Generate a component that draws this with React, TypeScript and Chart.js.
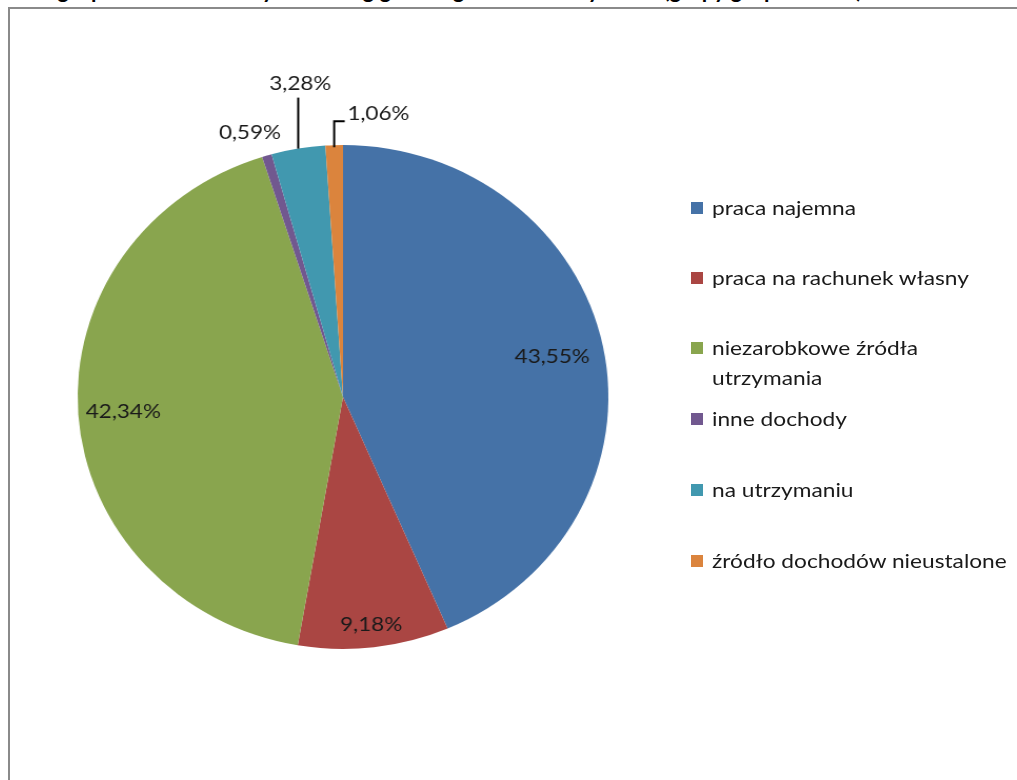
import React, { useEffect, useRef } from "react";
import { Chart, registerables } from "chart.js";

Chart.register(...registerables);

const categories = [
  "praca najemna",
  "praca na rachunek własny",
  "niezarobkowe źródła utrzymania",
  "inne dochody",
  "na utrzymaniu",
  "źródło dochodów nieustalone",
];
const legendLines = [
  ["praca najemna"],
  ["praca na rachunek własny"],
  ["niezarobkowe źródła", "utrzymania"],
  ["inne dochody"],
  ["na utrzymaniu"],
  ["źródło dochodów nieustalone"],
];
const values = [43.55, 9.18, 42.34, 0.59, 3.28, 1.06];
const valueLabels = ["43,55%", "9,18%", "42,34%", "0,59%", "3,28%", "1,06%"];
const colors = ["#4572A7", "#AA4643", "#89A54E", "#71588F", "#4198AF", "#DB843D"];

const titleText =
  "Struktura gospodarstw domowych według głównego źródła utrzymania (grupy gospodarstw)";

// label placement style: inside at fraction of radius, or outside with offsets from arc outer midpoint
type LabelStyle =
  | { mode: "inside"; frac: number }
  | { mode: "outside"; dx: number; dy: number; leader: "none" | "vertical" | "elbow" };
const labelStyles: LabelStyle[] = [
  { mode: "inside", frac: 0.805 },
  { mode: "inside", frac: 0.91 },
  { mode: "inside", frac: 0.83 },
  { mode: "outside", dx: -16, dy: -23, leader: "none" },
  { mode: "outside", dx: 2, dy: -65, leader: "vertical" },
  { mode: "outside", dx: 42, dy: -32, leader: "elbow" },
];

const FONT = "Lato, 'Open Sans', sans-serif";
const STRETCH = 1.053; // horizontal stretch of the whole drawing
const TEXT_STRETCH = 1.065; // extra horizontal stretch of label text

const labelPlugin = {
  id: "pieLabels",
  afterDatasetsDraw(chart: any) {
    const ctx = chart.ctx;
    const meta = chart.getDatasetMeta(0);
    ctx.save();
    ctx.font = `20px ${FONT}`;
    ctx.fillStyle = "#1a1a1a";
    ctx.textAlign = "center";
    ctx.textBaseline = "middle";
    const drawText = (t: string, tx: number, ty: number) => {
      ctx.save();
      ctx.translate(tx, ty);
      ctx.scale(TEXT_STRETCH, 1);
      ctx.fillText(t, 0, 0);
      ctx.restore();
    };
    meta.data.forEach((arc: any, i: number) => {
      const { x, y, startAngle, endAngle, outerRadius } = arc.getProps(
        ["x", "y", "startAngle", "endAngle", "outerRadius"],
        true
      );
      const mid = (startAngle + endAngle) / 2;
      const st = labelStyles[i];
      if (st.mode === "inside") {
        const r = outerRadius * st.frac;
        drawText(valueLabels[i], x + Math.cos(mid) * r, y + Math.sin(mid) * r);
      } else {
        const ox = x + Math.cos(mid) * outerRadius;
        const oy = y + Math.sin(mid) * outerRadius;
        const lx = ox + st.dx;
        const ly = oy + st.dy;
        ctx.strokeStyle = "#000";
        ctx.lineWidth = 2;
        if (st.leader === "vertical") {
          ctx.beginPath();
          ctx.moveTo(ox, oy);
          ctx.lineTo(ox, ly + 14);
          ctx.stroke();
        } else if (st.leader === "elbow") {
          ctx.beginPath();
          ctx.moveTo(ox, oy + 2);
          ctx.lineTo(ox, ly + 8);
          ctx.lineTo(ox + 10, ly + 8);
          ctx.stroke();
        }
        drawText(valueLabels[i], lx, ly);
      }
    });
    ctx.restore();
  },
};

export default function App() {
  const ref = useRef<HTMLCanvasElement | null>(null);
  useEffect(() => {
    if (!ref.current) return;
    const chart = new Chart(ref.current, {
      type: "pie",
      data: {
        labels: categories,
        datasets: [
          {
            data: values,
            backgroundColor: colors,
            borderWidth: 0,
          },
        ],
      },
      options: {
        animation: false,
        responsive: false,
        devicePixelRatio: 1,
        layout: { padding: { left: 91, right: 422, top: 145, bottom: 131 } },
        plugins: {
          legend: { display: false },
          tooltip: { enabled: false },
        },
      },
      plugins: [labelPlugin],
    });
    return () => chart.destroy();
  }, []);

  return (
    <div
      style={{
        position: "fixed",
        left: 0,
        top: 0,
        width: 1017,
        height: 780,
        overflow: "hidden",
        background: "#fff",
      }}
    >
      <div style={{ position: "absolute", left: 0, top: 0, width: 1017, height: 6, overflow: "hidden" }}>
        <div
          style={{
            position: "absolute",
            left: -40,
            top: -24,
            whiteSpace: "nowrap",
            font: `bold 22px ${FONT}`,
            color: "#000",
          }}
        >
          {titleText}
        </div>
      </div>
      <div
        style={{
          position: "absolute",
          left: 8,
          top: 7,
          width: 1100,
          height: 900,
          borderTop: "2px solid #8a8a8a",
          borderLeft: "2px solid #8a8a8a",
        }}
      />
      <canvas
        ref={ref}
        width={1017}
        height={780}
        style={{
          position: "absolute",
          left: 0,
          top: 0,
          transform: `scaleX(${STRETCH})`,
          transformOrigin: "343px 0px",
        }}
      />
      {legendLines.map((lines, i) => {
        const tops = [209, 279, 349, 420, 491, 562];
        return (
          <div key={i} style={{ position: "absolute", left: 691, top: tops[i] - 13 }}>
            <div
              style={{
                position: "absolute",
                left: 0,
                top: 6,
                width: 12,
                height: 12,
                background: colors[i],
              }}
            />
            <div
              style={{
                position: "absolute",
                left: 21,
                top: 0,
                whiteSpace: "nowrap",
                font: `20px ${FONT}`,
                lineHeight: "30px",
                color: "#1a1a1a",
                marginTop: -4,
                transform: "scaleX(1.135)",
                transformOrigin: "0 0",
              }}
            >
              {lines.map((l, j) => (
                <div key={j}>{l}</div>
              ))}
            </div>
          </div>
        );
      })}
    </div>
  );
}
